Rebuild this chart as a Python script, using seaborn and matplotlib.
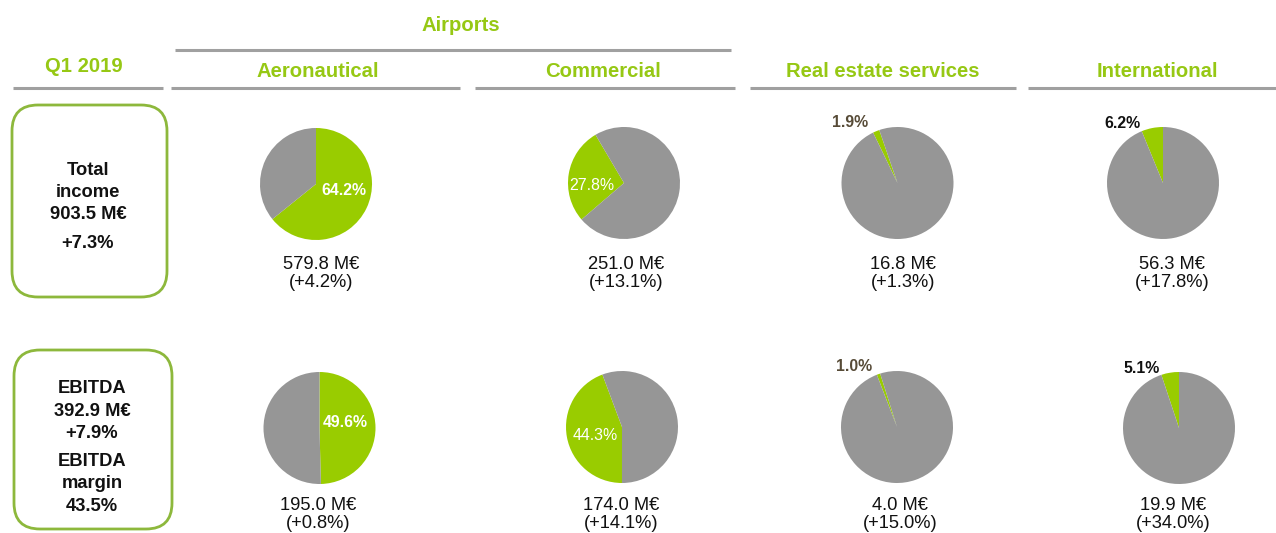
import matplotlib
matplotlib.use("Agg")
import matplotlib.pyplot as plt
from matplotlib.patches import FancyBboxPatch
import seaborn as sns

# ---------------------------------------------------------------- data
period = "Q1 2019"
group_title = "Airports"
segments = ["Aeronautical", "Commercial", "Real estate services", "International"]

income_share = [64.2, 27.8, 1.9, 6.2]        # share of total income, %
income_value = [579.8, 251.0, 16.8, 56.3]    # M€
income_growth = [4.2, 13.1, 1.3, 17.8]       # change vs previous year, %

ebitda_share = [49.6, 44.3, 1.0, 5.1]        # share of total EBITDA, %
ebitda_value = [195.0, 174.0, 4.0, 19.9]     # M€
ebitda_growth = [0.8, 14.1, 15.0, 34.0]      # change vs previous year, %

total_income = 903.5
total_income_growth = 7.3
total_ebitda = 392.9
total_ebitda_growth = 7.9
ebitda_margin = 43.5

# ---------------------------------------------------------------- style
sns.set_theme(style="white")
plt.rcParams["font.family"] = ["Liberation Sans", "DejaVu Sans"]
share_colors = sns.color_palette(["#99CC00", "#969696"])
GREEN_TXT = "#96C814"
BOX_EDGE = "#8DB83C"
RULE = "#A0A0A0"

W, H = 1276, 533
fig = plt.figure(figsize=(W / 100, H / 100), dpi=100)
ax = fig.add_axes([0, 0, 1, 1])


def Y(py):
    """Convert a top-down pixel row into the upward data axis."""
    return H - py


# ---------------------------------------------------------------- pies
radius = 56
pie_centres = [
    [(316, 184), (624, 183), (897.5, 183), (1163, 183)],
    [(319.5, 428), (622, 427), (897, 427), (1179, 428)],
]
pie_start = [[90, 120.6, 109, 90], [90, 110.5, 107.5, 90]]
pie_ccw = [[False, True, True, True], [False, True, True, True]]
pct_pos = [
    [(344, 195), (591.5, 190), (850, 127), (1122, 128)],
    [(345, 427), (595.5, 440), (854, 371), (1141.5, 373)],
]
pct_style = [("bold", "white"), ("normal", "white"),
             ("bold", "#574B37"), ("bold", "#111111")]
value_x = [[321, 626, 903, 1172], [318, 621, 900, 1173]]
value_base = [(269, 287), (510, 528)]

rows = [
    (income_share, income_value, income_growth),
    (ebitda_share, ebitda_value, ebitda_growth),
]

for r, (shares, values, growths) in enumerate(rows):
    for c, share in enumerate(shares):
        cx, cy = pie_centres[r][c]
        ax.pie([share, 100 - share], colors=share_colors,
               center=(cx, Y(cy)), radius=radius,
               startangle=pie_start[r][c], counterclock=pie_ccw[r][c],
               wedgeprops=dict(linewidth=0, edgecolor="none"))
        weight, color = pct_style[c]
        px, py = pct_pos[r][c]
        ax.text(px, Y(py), f"{share:.1f}%", ha="center", va="baseline",
                fontsize=11.4, fontweight=weight, color=color)
        b1, b2 = value_base[r]
        ax.text(value_x[r][c], Y(b1), f"{values[c]:.1f} M€", ha="center",
                va="baseline", fontsize=13.2, color="#111111")
        ax.text(value_x[r][c], Y(b2), f"(+{growths[c]:.1f}%)", ha="center",
                va="baseline", fontsize=13.2, color="#111111")

# ---------------------------------------------------------------- headers
head_kw = dict(ha="center", va="baseline", fontsize=14.6,
               fontweight="bold", color=GREEN_TXT)
ax.text(461, Y(31), group_title, **head_kw)
ax.text(84, Y(72), period, **head_kw)
for x, name in zip([318, 602.5, 883, 1157], segments):
    ax.text(x, Y(77), name, **head_kw)

ax.plot([175, 731], [Y(50), Y(50)], color=RULE, lw=2.2,
        solid_capstyle="butt")
for x0, x1 in [(13, 163), (171, 460), (475, 735), (750, 1016), (1028, 1276)]:
    ax.plot([x0, x1], [Y(88), Y(88)], color=RULE, lw=2.2,
            solid_capstyle="butt")

# ---------------------------------------------------------------- summary boxes
for (x0, top, x1, bottom) in [(12, 105, 167, 297), (14, 350, 172, 529)]:
    ax.add_patch(FancyBboxPatch((x0, Y(bottom)), x1 - x0, bottom - top,
                                boxstyle="round,pad=0,rounding_size=26",
                                linewidth=2, edgecolor=BOX_EDGE,
                                facecolor="white"))

box_kw = dict(ha="center", va="baseline", fontsize=13.2,
              fontweight="bold", color="#111111")
income_lines = ["Total", "income", f"{total_income:.1f} M€",
                f"+{total_income_growth:.1f}%"]
for text, base in zip(income_lines, [175, 197, 219, 248]):
    ax.text(88, Y(base), text, **box_kw)

ebitda_lines = ["EBITDA", f"{total_ebitda:.1f} M€",
                f"+{total_ebitda_growth:.1f}%", "EBITDA", "margin",
                f"{ebitda_margin:.1f}%"]
for text, base in zip(ebitda_lines, [393, 416, 438, 466, 488, 511]):
    ax.text(92, Y(base), text, **box_kw)

ax.set_xlim(0, W)
ax.set_ylim(0, H)
ax.set_aspect("equal")
ax.axis("off")

fig.savefig("out.png", dpi=100, facecolor="white")
